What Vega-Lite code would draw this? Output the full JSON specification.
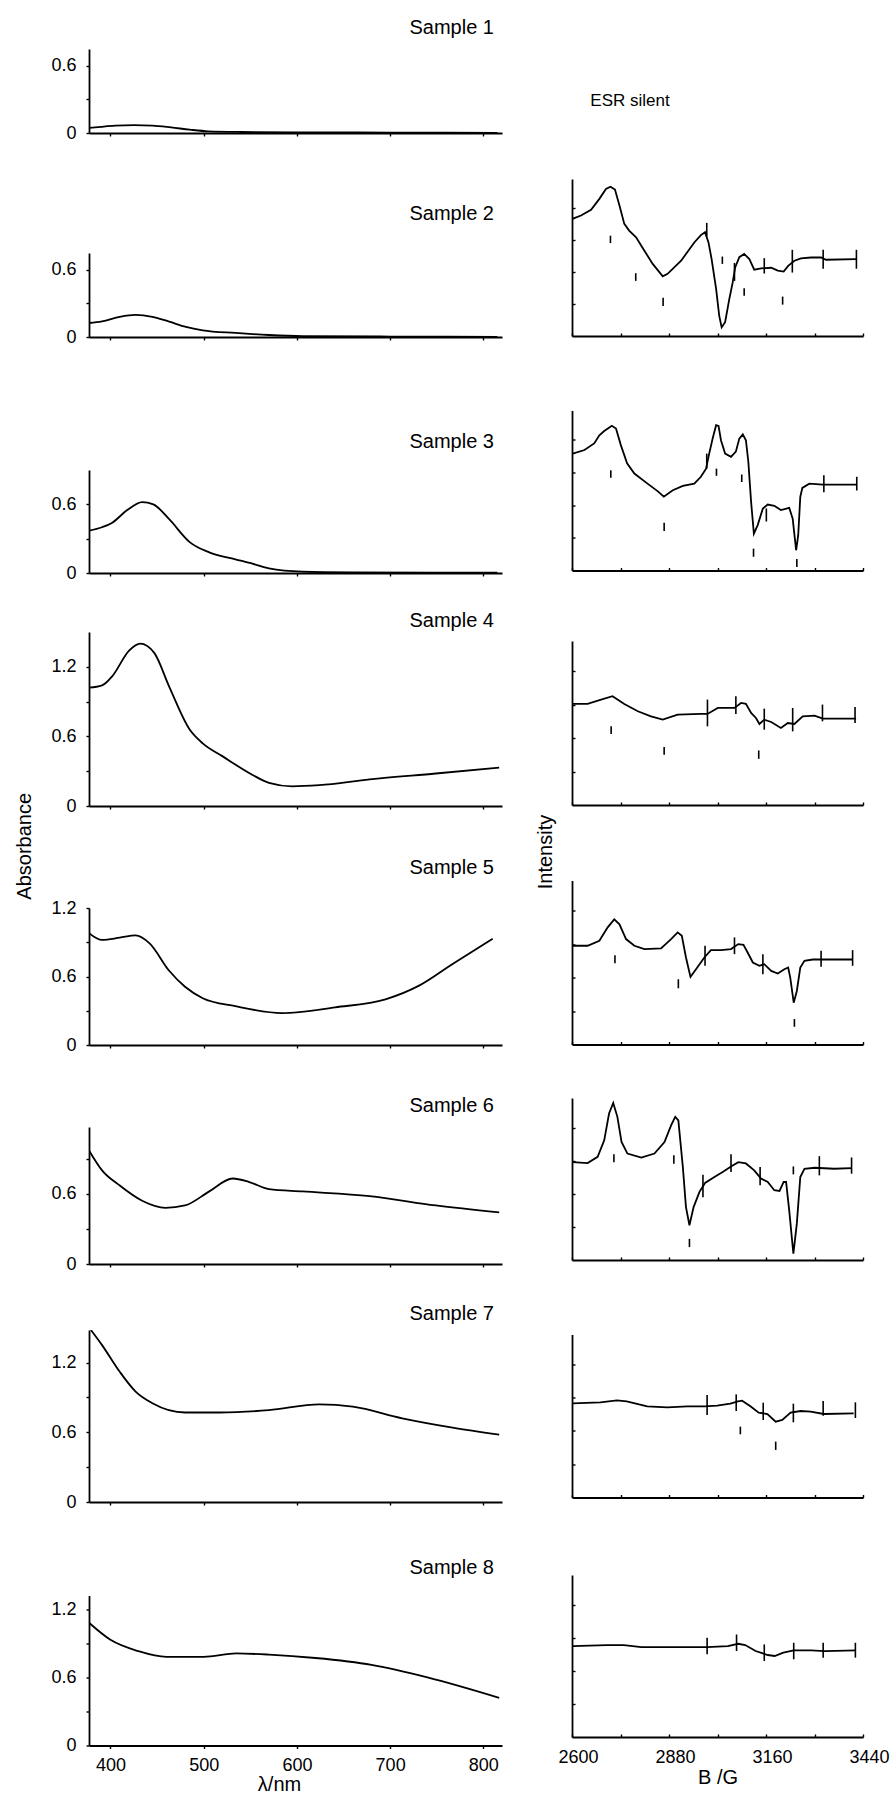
{
"$schema": "https://vega.github.io/schema/vega-lite/v6.json",
"padding": {"left": 14, "top": 18, "right": 0, "bottom": 0},
"config": {
  "view": {"stroke": null},
  "font": "Liberation Sans",
  "axis": {"domainColor": "black", "domainWidth": 1.8, "tickColor": "black", "tickWidth": 1.4, "labelColor": "black", "labelFont": "Liberation Sans", "labelFontSize": 18, "grid": false, "titleColor": "black", "titleFont": "Liberation Sans", "titleFontSize": 20, "titleFontWeight": "normal", "labelOverlap": false},
  "title": {"fontSize": 20, "fontWeight": "normal", "color": "black", "font": "Liberation Sans"},
  "line": {"color": "black", "strokeWidth": 1.8},
  "rule": {"color": "black", "strokeWidth": 1.6},
  "text": {"color": "black", "font": "Liberation Sans"}
},
"datasets": {
  "uv": [
    {"s":1,"nm":377,"A":0.045},{"s":1,"nm":390,"A":0.055},{"s":1,"nm":405,"A":0.065},{"s":1,"nm":425,"A":0.07},{"s":1,"nm":445,"A":0.066},{"s":1,"nm":465,"A":0.05},{"s":1,"nm":485,"A":0.03},{"s":1,"nm":505,"A":0.015},{"s":1,"nm":540,"A":0.009},{"s":1,"nm":600,"A":0.006},{"s":1,"nm":700,"A":0.004},{"s":1,"nm":815,"A":0.002},
    {"s":2,"nm":377,"A":0.125},{"s":2,"nm":391,"A":0.14},{"s":2,"nm":410,"A":0.18},{"s":2,"nm":427,"A":0.197},{"s":2,"nm":445,"A":0.18},{"s":2,"nm":463,"A":0.137},{"s":2,"nm":481,"A":0.09},{"s":2,"nm":499,"A":0.06},{"s":2,"nm":534,"A":0.036},{"s":2,"nm":570,"A":0.018},{"s":2,"nm":606,"A":0.008},{"s":2,"nm":700,"A":0.004},{"s":2,"nm":815,"A":0.002},
    {"s":3,"nm":377,"A":0.37},{"s":3,"nm":391,"A":0.40},{"s":3,"nm":402,"A":0.44},{"s":3,"nm":418,"A":0.55},{"s":3,"nm":434,"A":0.62},{"s":3,"nm":446,"A":0.60},{"s":3,"nm":463,"A":0.47},{"s":3,"nm":485,"A":0.27},{"s":3,"nm":506,"A":0.18},{"s":3,"nm":534,"A":0.12},{"s":3,"nm":553,"A":0.08},{"s":3,"nm":570,"A":0.04},{"s":3,"nm":606,"A":0.012},{"s":3,"nm":660,"A":0.006},{"s":3,"nm":750,"A":0.004},{"s":3,"nm":815,"A":0.003},
    {"s":4,"nm":377,"A":1.02},{"s":4,"nm":391,"A":1.04},{"s":4,"nm":402,"A":1.12},{"s":4,"nm":420,"A":1.34},{"s":4,"nm":432,"A":1.40},{"s":4,"nm":447,"A":1.32},{"s":4,"nm":463,"A":1.03},{"s":4,"nm":485,"A":0.66},{"s":4,"nm":499,"A":0.54},{"s":4,"nm":520,"A":0.43},{"s":4,"nm":552,"A":0.27},{"s":4,"nm":570,"A":0.20},{"s":4,"nm":595,"A":0.17},{"s":4,"nm":624,"A":0.18},{"s":4,"nm":678,"A":0.23},{"s":4,"nm":749,"A":0.28},{"s":4,"nm":817,"A":0.33},
    {"s":5,"nm":377,"A":0.98},{"s":5,"nm":391,"A":0.92},{"s":5,"nm":410,"A":0.94},{"s":5,"nm":427,"A":0.96},{"s":5,"nm":442,"A":0.89},{"s":5,"nm":463,"A":0.65},{"s":5,"nm":480,"A":0.51},{"s":5,"nm":499,"A":0.41},{"s":5,"nm":534,"A":0.34},{"s":5,"nm":584,"A":0.28},{"s":5,"nm":641,"A":0.33},{"s":5,"nm":695,"A":0.40},{"s":5,"nm":731,"A":0.52},{"s":5,"nm":767,"A":0.71},{"s":5,"nm":810,"A":0.93},
    {"s":6,"nm":377,"A":0.97},{"s":6,"nm":391,"A":0.80},{"s":6,"nm":410,"A":0.67},{"s":6,"nm":434,"A":0.54},{"s":6,"nm":459,"A":0.48},{"s":6,"nm":480,"A":0.50},{"s":6,"nm":506,"A":0.62},{"s":6,"nm":531,"A":0.73},{"s":6,"nm":549,"A":0.70},{"s":6,"nm":570,"A":0.64},{"s":6,"nm":606,"A":0.62},{"s":6,"nm":678,"A":0.58},{"s":6,"nm":749,"A":0.50},{"s":6,"nm":817,"A":0.44},
    {"s":7,"nm":379,"A":1.48},{"s":7,"nm":391,"A":1.35},{"s":7,"nm":410,"A":1.12},{"s":7,"nm":427,"A":0.95},{"s":7,"nm":445,"A":0.85},{"s":7,"nm":480,"A":0.77},{"s":7,"nm":517,"A":0.77},{"s":7,"nm":570,"A":0.79},{"s":7,"nm":624,"A":0.84},{"s":7,"nm":660,"A":0.82},{"s":7,"nm":713,"A":0.72},{"s":7,"nm":767,"A":0.64},{"s":7,"nm":817,"A":0.58},
    {"s":8,"nm":377,"A":1.08},{"s":8,"nm":400,"A":0.93},{"s":8,"nm":430,"A":0.83},{"s":8,"nm":460,"A":0.78},{"s":8,"nm":500,"A":0.78},{"s":8,"nm":535,"A":0.81},{"s":8,"nm":570,"A":0.80},{"s":8,"nm":620,"A":0.77},{"s":8,"nm":680,"A":0.71},{"s":8,"nm":740,"A":0.60},{"s":8,"nm":817,"A":0.42}
  ],
  "esr": [
    {"s":2,"B":2600,"I":3.65},{"s":2,"B":2626,"I":3.76},{"s":2,"B":2655,"I":3.94},{"s":2,"B":2679,"I":4.28},{"s":2,"B":2698,"I":4.59},{"s":2,"B":2711,"I":4.66},{"s":2,"B":2724,"I":4.57},{"s":2,"B":2737,"I":4.07},{"s":2,"B":2751,"I":3.5},{"s":2,"B":2765,"I":3.29},{"s":2,"B":2785,"I":3.08},{"s":2,"B":2809,"I":2.66},{"s":2,"B":2833,"I":2.25},{"s":2,"B":2862,"I":1.86},{"s":2,"B":2876,"I":1.94},{"s":2,"B":2915,"I":2.35},{"s":2,"B":2953,"I":2.92},{"s":2,"B":2972,"I":3.15},{"s":2,"B":2984,"I":3.24},{"s":2,"B":2994,"I":2.92},{"s":2,"B":3003,"I":2.4},{"s":2,"B":3016,"I":1.47},{"s":2,"B":3025,"I":0.63},{"s":2,"B":3032,"I":0.27},{"s":2,"B":3042,"I":0.43},{"s":2,"B":3054,"I":1.15},{"s":2,"B":3064,"I":1.68},{"s":2,"B":3071,"I":2.14},{"s":2,"B":3083,"I":2.46},{"s":2,"B":3097,"I":2.56},{"s":2,"B":3112,"I":2.4},{"s":2,"B":3126,"I":2.07},{"s":2,"B":3146,"I":2.11},{"s":2,"B":3175,"I":2.13},{"s":2,"B":3194,"I":2.04},{"s":2,"B":3211,"I":2.01},{"s":2,"B":3224,"I":2.19},{"s":2,"B":3242,"I":2.35},{"s":2,"B":3261,"I":2.42},{"s":2,"B":3290,"I":2.45},{"s":2,"B":3319,"I":2.45},{"s":2,"B":3333,"I":2.38},{"s":2,"B":3420,"I":2.4},
    {"s":3,"B":2602,"I":3.58},{"s":3,"B":2636,"I":3.69},{"s":3,"B":2664,"I":3.89},{"s":3,"B":2679,"I":4.14},{"s":3,"B":2693,"I":4.27},{"s":3,"B":2715,"I":4.43},{"s":3,"B":2727,"I":4.35},{"s":3,"B":2741,"I":3.84},{"s":3,"B":2759,"I":3.28},{"s":3,"B":2780,"I":2.97},{"s":3,"B":2818,"I":2.66},{"s":3,"B":2847,"I":2.43},{"s":3,"B":2865,"I":2.26},{"s":3,"B":2891,"I":2.46},{"s":3,"B":2920,"I":2.59},{"s":3,"B":2953,"I":2.66},{"s":3,"B":2972,"I":2.87},{"s":3,"B":2987,"I":3.12},{"s":3,"B":2996,"I":3.58},{"s":3,"B":3006,"I":4.04},{"s":3,"B":3016,"I":4.45},{"s":3,"B":3023,"I":4.43},{"s":3,"B":3030,"I":3.99},{"s":3,"B":3042,"I":3.58},{"s":3,"B":3059,"I":3.48},{"s":3,"B":3073,"I":3.64},{"s":3,"B":3083,"I":4.04},{"s":3,"B":3093,"I":4.17},{"s":3,"B":3102,"I":3.99},{"s":3,"B":3109,"I":3.33},{"s":3,"B":3117,"I":2.1},{"s":3,"B":3125,"I":1.13},{"s":3,"B":3136,"I":1.39},{"s":3,"B":3151,"I":1.9},{"s":3,"B":3165,"I":2.02},{"s":3,"B":3184,"I":1.98},{"s":3,"B":3203,"I":1.85},{"s":3,"B":3227,"I":1.92},{"s":3,"B":3237,"I":1.59},{"s":3,"B":3247,"I":0.62},{"s":3,"B":3253,"I":1.08},{"s":3,"B":3259,"I":2.26},{"s":3,"B":3265,"I":2.53},{"s":3,"B":3285,"I":2.66},{"s":3,"B":3324,"I":2.63},{"s":3,"B":3357,"I":2.63},{"s":3,"B":3420,"I":2.63},
    {"s":4,"B":2602,"I":3.02},{"s":4,"B":2645,"I":3.02},{"s":4,"B":2684,"I":3.15},{"s":4,"B":2717,"I":3.25},{"s":4,"B":2751,"I":3.02},{"s":4,"B":2790,"I":2.8},{"s":4,"B":2828,"I":2.65},{"s":4,"B":2862,"I":2.55},{"s":4,"B":2905,"I":2.7},{"s":4,"B":2972,"I":2.72},{"s":4,"B":2991,"I":2.72},{"s":4,"B":3021,"I":2.9},{"s":4,"B":3069,"I":2.9},{"s":4,"B":3088,"I":3.05},{"s":4,"B":3102,"I":3.02},{"s":4,"B":3117,"I":2.75},{"s":4,"B":3131,"I":2.6},{"s":4,"B":3141,"I":2.42},{"s":4,"B":3155,"I":2.55},{"s":4,"B":3175,"I":2.48},{"s":4,"B":3203,"I":2.3},{"s":4,"B":3223,"I":2.45},{"s":4,"B":3242,"I":2.42},{"s":4,"B":3266,"I":2.65},{"s":4,"B":3300,"I":2.67},{"s":4,"B":3324,"I":2.58},{"s":4,"B":3420,"I":2.58},
    {"s":5,"B":2602,"I":2.95},{"s":5,"B":2645,"I":2.95},{"s":5,"B":2679,"I":3.1},{"s":5,"B":2703,"I":3.5},{"s":5,"B":2722,"I":3.74},{"s":5,"B":2737,"I":3.59},{"s":5,"B":2756,"I":3.15},{"s":5,"B":2780,"I":2.95},{"s":5,"B":2809,"I":2.85},{"s":5,"B":2857,"I":2.87},{"s":5,"B":2886,"I":3.15},{"s":5,"B":2905,"I":3.35},{"s":5,"B":2917,"I":3.25},{"s":5,"B":2929,"I":2.6},{"s":5,"B":2942,"I":2.02},{"s":5,"B":2958,"I":2.25},{"s":5,"B":2982,"I":2.6},{"s":5,"B":3001,"I":2.82},{"s":5,"B":3030,"I":2.82},{"s":5,"B":3059,"I":2.85},{"s":5,"B":3080,"I":3.0},{"s":5,"B":3095,"I":2.98},{"s":5,"B":3107,"I":2.75},{"s":5,"B":3122,"I":2.45},{"s":5,"B":3141,"I":2.35},{"s":5,"B":3155,"I":2.4},{"s":5,"B":3175,"I":2.2},{"s":5,"B":3194,"I":2.12},{"s":5,"B":3213,"I":2.25},{"s":5,"B":3224,"I":2.3},{"s":5,"B":3230,"I":2.0},{"s":5,"B":3240,"I":1.25},{"s":5,"B":3249,"I":1.6},{"s":5,"B":3259,"I":2.3},{"s":5,"B":3271,"I":2.5},{"s":5,"B":3295,"I":2.54},{"s":5,"B":3410,"I":2.54},
    {"s":6,"B":2602,"I":2.96},{"s":6,"B":2645,"I":2.93},{"s":6,"B":2674,"I":3.12},{"s":6,"B":2693,"I":3.62},{"s":6,"B":2707,"I":4.43},{"s":6,"B":2719,"I":4.75},{"s":6,"B":2731,"I":4.33},{"s":6,"B":2743,"I":3.57},{"s":6,"B":2760,"I":3.22},{"s":6,"B":2800,"I":3.1},{"s":6,"B":2838,"I":3.22},{"s":6,"B":2867,"I":3.57},{"s":6,"B":2886,"I":4.07},{"s":6,"B":2898,"I":4.33},{"s":6,"B":2907,"I":4.22},{"s":6,"B":2920,"I":2.81},{"s":6,"B":2929,"I":1.6},{"s":6,"B":2939,"I":1.05},{"s":6,"B":2951,"I":1.6},{"s":6,"B":2968,"I":2.06},{"s":6,"B":2984,"I":2.33},{"s":6,"B":3011,"I":2.51},{"s":6,"B":3035,"I":2.66},{"s":6,"B":3059,"I":2.83},{"s":6,"B":3080,"I":2.96},{"s":6,"B":3102,"I":2.92},{"s":6,"B":3126,"I":2.71},{"s":6,"B":3146,"I":2.46},{"s":6,"B":3165,"I":2.36},{"s":6,"B":3184,"I":2.11},{"s":6,"B":3199,"I":2.09},{"s":6,"B":3211,"I":2.36},{"s":6,"B":3218,"I":2.36},{"s":6,"B":3227,"I":1.5},{"s":6,"B":3239,"I":0.19},{"s":6,"B":3249,"I":1.1},{"s":6,"B":3259,"I":2.51},{"s":6,"B":3271,"I":2.76},{"s":6,"B":3300,"I":2.79},{"s":6,"B":3357,"I":2.76},{"s":6,"B":3407,"I":2.78},
    {"s":7,"B":2602,"I":2.83},{"s":7,"B":2682,"I":2.86},{"s":7,"B":2730,"I":2.92},{"s":7,"B":2758,"I":2.89},{"s":7,"B":2817,"I":2.74},{"s":7,"B":2875,"I":2.71},{"s":7,"B":2933,"I":2.74},{"s":7,"B":2983,"I":2.74},{"s":7,"B":3019,"I":2.76},{"s":7,"B":3057,"I":2.82},{"s":7,"B":3079,"I":2.89},{"s":7,"B":3091,"I":2.91},{"s":7,"B":3115,"I":2.74},{"s":7,"B":3139,"I":2.55},{"s":7,"B":3164,"I":2.51},{"s":7,"B":3188,"I":2.28},{"s":7,"B":3207,"I":2.33},{"s":7,"B":3231,"I":2.55},{"s":7,"B":3260,"I":2.6},{"s":7,"B":3289,"I":2.58},{"s":7,"B":3327,"I":2.51},{"s":7,"B":3413,"I":2.53},
    {"s":8,"B":2602,"I":2.75},{"s":8,"B":2700,"I":2.78},{"s":8,"B":2750,"I":2.78},{"s":8,"B":2800,"I":2.72},{"s":8,"B":2900,"I":2.72},{"s":8,"B":2990,"I":2.72},{"s":8,"B":3050,"I":2.75},{"s":8,"B":3080,"I":2.82},{"s":8,"B":3100,"I":2.78},{"s":8,"B":3130,"I":2.6},{"s":8,"B":3165,"I":2.48},{"s":8,"B":3185,"I":2.45},{"s":8,"B":3210,"I":2.55},{"s":8,"B":3240,"I":2.62},{"s":8,"B":3290,"I":2.62},{"s":8,"B":3330,"I":2.6},{"s":8,"B":3420,"I":2.62}
  ],
  "esrm": [
    {"s":2,"B":2989,"lo":3.1,"hi":3.53},{"s":2,"B":3069,"lo":1.72,"hi":2.28},{"s":2,"B":3155,"lo":1.95,"hi":2.43},{"s":2,"B":3236,"lo":1.98,"hi":2.69},{"s":2,"B":3325,"lo":2.1,"hi":2.69},{"s":2,"B":3421,"lo":2.1,"hi":2.69},
    {"s":2,"B":2711,"lo":2.9,"hi":3.13},{"s":2,"B":2784,"lo":1.72,"hi":1.96},{"s":2,"B":2863,"lo":0.94,"hi":1.19},{"s":2,"B":3034,"lo":2.25,"hi":2.48},{"s":2,"B":3097,"lo":1.26,"hi":1.49},{"s":2,"B":3208,"lo":0.98,"hi":1.23},
    {"s":3,"B":2989,"lo":3.12,"hi":3.58},{"s":3,"B":3161,"lo":1.5,"hi":1.9},{"s":3,"B":3327,"lo":2.4,"hi":2.92},{"s":3,"B":3422,"lo":2.45,"hi":2.87},
    {"s":3,"B":2712,"lo":2.84,"hi":3.07},{"s":3,"B":2866,"lo":1.21,"hi":1.46},{"s":3,"B":3017,"lo":2.9,"hi":3.12},{"s":3,"B":3090,"lo":2.71,"hi":2.94},{"s":3,"B":3124,"lo":0.42,"hi":0.67},{"s":3,"B":3249,"lo":0.11,"hi":0.35},
    {"s":4,"B":2991,"lo":2.35,"hi":3.15},{"s":4,"B":3073,"lo":2.72,"hi":3.25},{"s":4,"B":3155,"lo":2.25,"hi":2.88},{"s":4,"B":3237,"lo":2.2,"hi":2.9},{"s":4,"B":3323,"lo":2.5,"hi":3.0},{"s":4,"B":3417,"lo":2.45,"hi":2.93},
    {"s":4,"B":2713,"lo":2.12,"hi":2.35},{"s":4,"B":2866,"lo":1.5,"hi":1.73},{"s":4,"B":3139,"lo":1.38,"hi":1.63},
    {"s":5,"B":2984,"lo":2.35,"hi":2.95},{"s":5,"B":3069,"lo":2.7,"hi":3.2},{"s":5,"B":3151,"lo":2.1,"hi":2.7},{"s":5,"B":3319,"lo":2.32,"hi":2.8},{"s":5,"B":3410,"lo":2.35,"hi":2.82},
    {"s":5,"B":2724,"lo":2.43,"hi":2.67},{"s":5,"B":2907,"lo":1.68,"hi":1.95},{"s":5,"B":3242,"lo":0.53,"hi":0.76},
    {"s":6,"B":2978,"lo":1.9,"hi":2.58},{"s":6,"B":3059,"lo":2.66,"hi":3.2},{"s":6,"B":3143,"lo":2.26,"hi":2.81},{"s":6,"B":3314,"lo":2.56,"hi":3.14},{"s":6,"B":3407,"lo":2.61,"hi":3.1},
    {"s":6,"B":2721,"lo":2.96,"hi":3.2},{"s":6,"B":2894,"lo":2.91,"hi":3.17},{"s":6,"B":2939,"lo":0.39,"hi":0.64},{"s":6,"B":3239,"lo":2.59,"hi":2.83},
    {"s":7,"B":2990,"lo":2.48,"hi":3.08},{"s":7,"B":3074,"lo":2.6,"hi":3.1},{"s":7,"B":3152,"lo":2.33,"hi":2.85},{"s":7,"B":3239,"lo":2.26,"hi":2.82},{"s":7,"B":3325,"lo":2.46,"hi":2.9},{"s":7,"B":3418,"lo":2.39,"hi":2.86},
    {"s":7,"B":3086,"lo":1.9,"hi":2.13},{"s":7,"B":3188,"lo":1.43,"hi":1.68},
    {"s":8,"B":2990,"lo":2.5,"hi":3.0},{"s":8,"B":3075,"lo":2.6,"hi":3.1},{"s":8,"B":3155,"lo":2.3,"hi":2.8},{"s":8,"B":3240,"lo":2.35,"hi":2.85},{"s":8,"B":3325,"lo":2.4,"hi":2.85},{"s":8,"B":3418,"lo":2.4,"hi":2.85}
  ]
},
"spacing": 33,
"hconcat": [
  {
    "title": {"text": "Absorbance", "orient": "left", "anchor": "middle", "offset": -3.9, "dx": 60, "baseline": "bottom", "fontSize": 20},
    "spacing": 61,
    "vconcat": [
      {"title": {"text": "Sample 1", "anchor": "end", "frame": "group", "offset": -9, "dx": -8, "baseline": "bottom"},
       "width": 413, "height": 84, "data": {"name": "uv"}, "transform": [{"filter": "datum.s == 1"}],
       "mark": {"type": "line", "interpolate": "monotone", "clip": true},
       "encoding": {
         "x": {"field": "nm", "type": "quantitative", "scale": {"domain": [377, 820], "nice": false, "zero": false}, "axis": {"values": [400,500,600,700,800], "labels": false, "title": null, "tickSize": 3}},
         "y": {"field": "A", "type": "quantitative", "scale": {"domain": [0, 0.75], "nice": false}, "axis": {"values": [0,0.3,0.6], "title": null, "tickSize": 3, "labelPadding": 10, "labelExpr": "datum.value == 0 ? '0' : (datum.value == 0.6 || datum.value == 1.2 ? format(datum.value, '.1f') : '')"}}
       }},
      {"spacing": 85, "vconcat": [
        {"title": {"text": "Sample 2", "anchor": "end", "frame": "group", "offset": 9.5, "dx": -8, "baseline": "bottom"},
         "width": 413, "height": 84, "data": {"name": "uv"}, "transform": [{"filter": "datum.s == 2"}],
         "mark": {"type": "line", "interpolate": "monotone", "clip": true},
         "encoding": {
           "x": {"field": "nm", "type": "quantitative", "scale": {"domain": [377, 820], "nice": false, "zero": false}, "axis": {"values": [400,500,600,700,800], "labels": false, "title": null, "tickSize": 3}},
           "y": {"field": "A", "type": "quantitative", "scale": {"domain": [0, 0.75], "nice": false}, "axis": {"values": [0,0.3,0.6], "title": null, "tickSize": 3, "labelPadding": 10, "labelExpr": "datum.value == 0 ? '0' : (datum.value == 0.6 || datum.value == 1.2 ? format(datum.value, '.1f') : '')"}}
         }},
        {"spacing": 28, "vconcat": [
          {"title": {"text": "Sample 3", "anchor": "end", "frame": "group", "offset": -1.5, "dx": -8, "baseline": "bottom"},
           "width": 413, "height": 103, "data": {"name": "uv"}, "transform": [{"filter": "datum.s == 3"}],
           "mark": {"type": "line", "interpolate": "monotone", "clip": true},
           "encoding": {
             "x": {"field": "nm", "type": "quantitative", "scale": {"domain": [377, 820], "nice": false, "zero": false}, "axis": {"values": [400,500,600,700,800], "labels": false, "title": null, "tickSize": 3}},
             "y": {"field": "A", "type": "quantitative", "scale": {"domain": [0, 0.9], "nice": false}, "axis": {"values": [0,0.3,0.6], "title": null, "tickSize": 3, "labelPadding": 10, "labelExpr": "datum.value == 0 ? '0' : (datum.value == 0.6 || datum.value == 1.2 ? format(datum.value, '.1f') : '')"}}
           }},
          {"spacing": 42, "vconcat": [
            {"title": {"text": "Sample 4", "anchor": "end", "frame": "group", "offset": -18.5, "dx": -8, "baseline": "bottom"},
             "width": 413, "height": 174, "data": {"name": "uv"}, "transform": [{"filter": "datum.s == 4"}],
             "mark": {"type": "line", "interpolate": "monotone", "clip": true},
             "encoding": {
               "x": {"field": "nm", "type": "quantitative", "scale": {"domain": [377, 820], "nice": false, "zero": false}, "axis": {"values": [400,500,600,700,800], "labels": false, "title": null, "tickSize": 3}},
               "y": {"field": "A", "type": "quantitative", "scale": {"domain": [0, 1.5], "nice": false}, "axis": {"values": [0,0.3,0.6,0.9,1.2], "title": null, "tickSize": 3, "labelPadding": 10, "labelExpr": "datum.value == 0 ? '0' : (datum.value == 0.6 || datum.value == 1.2 ? format(datum.value, '.1f') : '')"}}
             }},
            {"spacing": 41, "vconcat": [
              {"title": {"text": "Sample 5", "anchor": "end", "frame": "group", "offset": 1.5, "dx": -8, "baseline": "bottom"},
               "width": 413, "height": 137, "data": {"name": "uv"}, "transform": [{"filter": "datum.s == 5"}],
               "mark": {"type": "line", "interpolate": "monotone", "clip": true},
               "encoding": {
                 "x": {"field": "nm", "type": "quantitative", "scale": {"domain": [377, 820], "nice": false, "zero": false}, "axis": {"values": [400,500,600,700,800], "labels": false, "title": null, "tickSize": 3}},
                 "y": {"field": "A", "type": "quantitative", "scale": {"domain": [0, 1.2], "nice": false}, "axis": {"values": [0,0.3,0.6,0.9,1.2], "title": null, "tickSize": 3, "labelPadding": 10, "labelExpr": "datum.value == 0 ? '0' : (datum.value == 0.6 || datum.value == 1.2 ? format(datum.value, '.1f') : '')"}}
               }},
              {"spacing": 30, "vconcat": [
                {"title": {"text": "Sample 6", "anchor": "end", "frame": "group", "offset": -8.5, "dx": -8, "baseline": "bottom"},
                 "width": 413, "height": 137, "data": {"name": "uv"}, "transform": [{"filter": "datum.s == 6"}],
                 "mark": {"type": "line", "interpolate": "monotone", "clip": true},
                 "encoding": {
                   "x": {"field": "nm", "type": "quantitative", "scale": {"domain": [377, 820], "nice": false, "zero": false}, "axis": {"values": [400,500,600,700,800], "labels": false, "title": null, "tickSize": 3}},
                   "y": {"field": "A", "type": "quantitative", "scale": {"domain": [0, 1.17], "nice": false}, "axis": {"values": [0,0.3,0.6,0.9], "title": null, "tickSize": 3, "labelPadding": 10, "labelExpr": "datum.value == 0 ? '0' : (datum.value == 0.6 || datum.value == 1.2 ? format(datum.value, '.1f') : '')"}}
                 }},
                {"spacing": 46.5, "vconcat": [
                  {"title": {"text": "Sample 7", "anchor": "end", "frame": "group", "offset": -13.5, "dx": -8, "baseline": "bottom"},
                   "width": 413, "height": 172, "data": {"name": "uv"}, "transform": [{"filter": "datum.s == 7"}],
                   "mark": {"type": "line", "interpolate": "monotone", "clip": true},
                   "encoding": {
                     "x": {"field": "nm", "type": "quantitative", "scale": {"domain": [377, 820], "nice": false, "zero": false}, "axis": {"values": [400,500,600,700,800], "labels": false, "title": null, "tickSize": 3}},
                     "y": {"field": "A", "type": "quantitative", "scale": {"domain": [0, 1.48], "nice": false}, "axis": {"values": [0,0.3,0.6,0.9,1.2], "title": null, "tickSize": 3, "labelPadding": 10, "labelExpr": "datum.value == 0 ? '0' : (datum.value == 0.6 || datum.value == 1.2 ? format(datum.value, '.1f') : '')"}}
                   }},
                  {"title": {"text": "Sample 8", "anchor": "end", "frame": "group", "offset": -2.5, "dx": -8, "baseline": "bottom"},
                   "width": 413, "height": 150, "data": {"name": "uv"}, "transform": [{"filter": "datum.s == 8"}],
                   "mark": {"type": "line", "interpolate": "monotone", "clip": true},
                   "encoding": {
                     "x": {"field": "nm", "type": "quantitative", "scale": {"domain": [377, 820], "nice": false, "zero": false}, "axis": {"values": [400,500,600,700,800], "labels": true, "title": "λ/nm", "titlePadding": 0, "titleX": 190, "labelPadding": 8, "tickSize": 3}},
                     "y": {"field": "A", "type": "quantitative", "scale": {"domain": [0, 1.32], "nice": false}, "axis": {"values": [0,0.3,0.6,0.9,1.2], "title": null, "tickSize": 3, "labelPadding": 10, "labelExpr": "datum.value == 0 ? '0' : (datum.value == 0.6 || datum.value == 1.2 ? format(datum.value, '.1f') : '')"}}
                   }}
                ]}
              ]}
            ]}
          ]}
        ]}
      ]}
    ]
  },
  {
    "title": {"text": "Intensity", "orient": "left", "anchor": "middle", "offset": -17.6, "dx": 66, "baseline": "bottom", "fontSize": 20},
    "spacing": 30,
    "vconcat": [
      {"width": 116, "height": 100, "data": {"values": [{"t": "ESR silent"}]},
       "mark": {"type": "text", "fontSize": 17, "dy": 2},
       "encoding": {"text": {"field": "t", "type": "nominal"}}},
      {"spacing": 73.5, "vconcat": [
        {"width": 291, "height": 157, "layer": [
          {"data": {"name": "esr"}, "transform": [{"filter": "datum.s == 2"}], "mark": {"type": "line", "clip": true},
           "encoding": {
             "x": {"field": "B", "type": "quantitative", "scale": {"domain": [2600, 3440], "nice": false, "zero": false}, "axis": {"values": [2600,2670,2740,2810,2880,2950,3020,3090,3160,3230,3300,3370,3440], "labels": false, "title": null, "tickSize": -3}},
             "y": {"field": "I", "type": "quantitative", "scale": {"domain": [0, 4.9], "nice": false}, "axis": {"values": [1,2,3,4], "labels": false, "title": null, "tickSize": -3}}}},
          {"data": {"name": "esrm"}, "transform": [{"filter": "datum.s == 2"}], "mark": {"type": "rule"},
           "encoding": {"x": {"field": "B", "type": "quantitative"}, "y": {"field": "lo", "type": "quantitative"}, "y2": {"field": "hi"}}}
        ]},
        {"spacing": 69.5, "vconcat": [
          {"width": 291, "height": 160, "layer": [
            {"data": {"name": "esr"}, "transform": [{"filter": "datum.s == 3"}], "mark": {"type": "line", "clip": true},
             "encoding": {
               "x": {"field": "B", "type": "quantitative", "scale": {"domain": [2600, 3440], "nice": false, "zero": false}, "axis": {"values": [2600,2670,2740,2810,2880,2950,3020,3090,3160,3230,3300,3370,3440], "labels": false, "title": null, "tickSize": -3}},
               "y": {"field": "I", "type": "quantitative", "scale": {"domain": [0, 4.9], "nice": false}, "axis": {"values": [1,2,3,4], "labels": false, "title": null, "tickSize": -3}}}},
            {"data": {"name": "esrm"}, "transform": [{"filter": "datum.s == 3"}], "mark": {"type": "rule"},
             "encoding": {"x": {"field": "B", "type": "quantitative"}, "y": {"field": "lo", "type": "quantitative"}, "y2": {"field": "hi"}}}
          ]},
          {"spacing": 74.5, "vconcat": [
            {"width": 291, "height": 164, "layer": [
              {"data": {"name": "esr"}, "transform": [{"filter": "datum.s == 4"}], "mark": {"type": "line", "clip": true},
               "encoding": {
                 "x": {"field": "B", "type": "quantitative", "scale": {"domain": [2600, 3440], "nice": false, "zero": false}, "axis": {"values": [2600,2670,2740,2810,2880,2950,3020,3090,3160,3230,3300,3370,3440], "labels": false, "title": null, "tickSize": -3}},
                 "y": {"field": "I", "type": "quantitative", "scale": {"domain": [0, 4.9], "nice": false}, "axis": {"values": [1,2,3,4], "labels": false, "title": null, "tickSize": -3}}}},
              {"data": {"name": "esrm"}, "transform": [{"filter": "datum.s == 4"}], "mark": {"type": "rule"},
               "encoding": {"x": {"field": "B", "type": "quantitative"}, "y": {"field": "lo", "type": "quantitative"}, "y2": {"field": "hi"}}}
            ]},
            {"spacing": 52.5, "vconcat": [
              {"width": 291, "height": 164, "layer": [
                {"data": {"name": "esr"}, "transform": [{"filter": "datum.s == 5"}], "mark": {"type": "line", "clip": true},
                 "encoding": {
                   "x": {"field": "B", "type": "quantitative", "scale": {"domain": [2600, 3440], "nice": false, "zero": false}, "axis": {"values": [2600,2670,2740,2810,2880,2950,3020,3090,3160,3230,3300,3370,3440], "labels": false, "title": null, "tickSize": -3}},
                   "y": {"field": "I", "type": "quantitative", "scale": {"domain": [0, 4.9], "nice": false}, "axis": {"values": [1,2,3,4], "labels": false, "title": null, "tickSize": -3}}}},
                {"data": {"name": "esrm"}, "transform": [{"filter": "datum.s == 5"}], "mark": {"type": "rule"},
                 "encoding": {"x": {"field": "B", "type": "quantitative"}, "y": {"field": "lo", "type": "quantitative"}, "y2": {"field": "hi"}}}
              ]},
              {"spacing": 73.5, "vconcat": [
                {"width": 291, "height": 162, "layer": [
                  {"data": {"name": "esr"}, "transform": [{"filter": "datum.s == 6"}], "mark": {"type": "line", "clip": true},
                   "encoding": {
                     "x": {"field": "B", "type": "quantitative", "scale": {"domain": [2600, 3440], "nice": false, "zero": false}, "axis": {"values": [2600,2670,2740,2810,2880,2950,3020,3090,3160,3230,3300,3370,3440], "labels": false, "title": null, "tickSize": -3}},
                     "y": {"field": "I", "type": "quantitative", "scale": {"domain": [0, 4.9], "nice": false}, "axis": {"values": [1,2,3,4], "labels": false, "title": null, "tickSize": -3}}}},
                  {"data": {"name": "esrm"}, "transform": [{"filter": "datum.s == 6"}], "mark": {"type": "rule"},
                   "encoding": {"x": {"field": "B", "type": "quantitative"}, "y": {"field": "lo", "type": "quantitative"}, "y2": {"field": "hi"}}}
                ]},
                {"spacing": 76.5, "vconcat": [
                  {"width": 291, "height": 163, "layer": [
                    {"data": {"name": "esr"}, "transform": [{"filter": "datum.s == 7"}], "mark": {"type": "line", "clip": true},
                     "encoding": {
                       "x": {"field": "B", "type": "quantitative", "scale": {"domain": [2600, 3440], "nice": false, "zero": false}, "axis": {"values": [2600,2670,2740,2810,2880,2950,3020,3090,3160,3230,3300,3370,3440], "labels": false, "title": null, "tickSize": -3}},
                       "y": {"field": "I", "type": "quantitative", "scale": {"domain": [0, 4.9], "nice": false}, "axis": {"values": [1,2,3,4], "labels": false, "title": null, "tickSize": -3}}}},
                    {"data": {"name": "esrm"}, "transform": [{"filter": "datum.s == 7"}], "mark": {"type": "rule"},
                     "encoding": {"x": {"field": "B", "type": "quantitative"}, "y": {"field": "lo", "type": "quantitative"}, "y2": {"field": "hi"}}}
                  ]},
                  {"width": 291, "height": 162, "layer": [
                    {"data": {"name": "esr"}, "transform": [{"filter": "datum.s == 8"}], "mark": {"type": "line", "clip": true},
                     "encoding": {
                       "x": {"field": "B", "type": "quantitative", "scale": {"domain": [2600, 3440], "nice": false, "zero": false}, "axis": {"values": [2600,2670,2740,2810,2880,2950,3020,3090,3160,3230,3300,3370,3440], "labels": true, "labelFlush": false, "labelOffset": 6, "labelPadding": 14, "labelExpr": "datum.value == 2600 || datum.value == 2880 || datum.value == 3160 || datum.value == 3440 ? format(datum.value, 'd') : ''", "title": "B /G", "titlePadding": 1, "tickSize": -3}},
                       "y": {"field": "I", "type": "quantitative", "scale": {"domain": [0, 4.9], "nice": false}, "axis": {"values": [1,2,3,4], "labels": false, "title": null, "tickSize": -3}}}},
                    {"data": {"name": "esrm"}, "transform": [{"filter": "datum.s == 8"}], "mark": {"type": "rule"},
                     "encoding": {"x": {"field": "B", "type": "quantitative"}, "y": {"field": "lo", "type": "quantitative"}, "y2": {"field": "hi"}}}
                  ]}
                ]}
              ]}
            ]}
          ]}
        ]}
      ]}
    ]
  }
]
}
